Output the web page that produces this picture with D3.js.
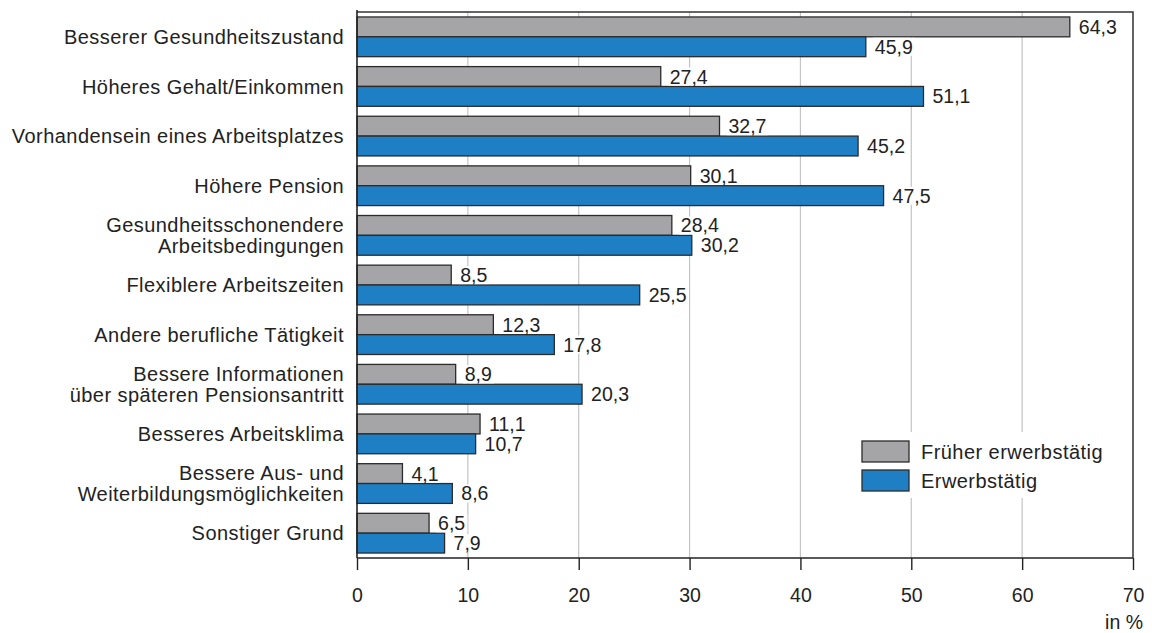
<!DOCTYPE html>
<html>
<head>
<meta charset="utf-8">
<script src="https://cdn.jsdelivr.net/npm/d3@7"></script>
<style>
  body { margin: 0; background: #fff; }
  svg { display: block; font-family: "Liberation Sans", Arial, sans-serif; }
</style>
</head>
<body>
<svg id="chart" width="1152" height="633"></svg>
<script>
// Reasons for staying longer in work, by employment status (in %)
const categories = [
  ["Besserer Gesundheitszustand"],
  ["Höheres Gehalt/Einkommen"],
  ["Vorhandensein eines Arbeitsplatzes"],
  ["Höhere Pension"],
  ["Gesundheitsschonendere", "Arbeitsbedingungen"],
  ["Flexiblere Arbeitszeiten"],
  ["Andere berufliche Tätigkeit"],
  ["Bessere Informationen", "über späteren Pensionsantritt"],
  ["Besseres Arbeitsklima"],
  ["Bessere Aus- und", "Weiterbildungsmöglichkeiten"],
  ["Sonstiger Grund"]
];
const frueher = [64.3, 27.4, 32.7, 30.1, 28.4, 8.5, 12.3, 8.9, 11.1, 4.1, 6.5];
const erwerb  = [45.9, 51.1, 45.2, 47.5, 30.2, 25.5, 17.8, 20.3, 10.7, 8.6, 7.9];
const seriesNames = ["Früher erwerbstätig", "Erwerbstätig"];
const xTicks = [0, 10, 20, 30, 40, 50, 60, 70];

const colors = ["#a5a5a8", "#1f7fc5"];
const fmt = v => d3.format(".1f")(v).replace(".", ",");

const svg = d3.select("#chart");
const plotL = 357, plotR = 1133, plotT = 12, plotB = 558;
const fontSize = 19.5;     // numbers
const textSize = 20;       // category and legend text
const textSpacing = "0.45px";

const x = d3.scaleLinear().domain([0, 70]).range([plotL, plotR]);
const y = d3.scaleBand().domain(d3.range(categories.length)).range([plotT, plotB])
  .paddingInner(0.2).paddingOuter(0.1);
const yInner = d3.scaleBand().domain([0, 1]).range([0, y.bandwidth()]);

// vertical gridlines
svg.append("g").selectAll("line")
  .data(xTicks.filter(t => t > 0 && t < 70))
  .join("line")
  .attr("x1", d => x(d)).attr("x2", d => x(d))
  .attr("y1", plotT).attr("y2", plotB)
  .attr("stroke", "#c4c4c4").attr("stroke-width", 1.2);

// frame: top and right border
svg.append("path")
  .attr("d", `M${plotL},${plotT}H${plotR}V${plotB}`)
  .attr("fill", "none").attr("stroke", "#333").attr("stroke-width", 1.5);

// bars
const rows = categories.map((c, i) => ({ i, vals: [frueher[i], erwerb[i]] }));
const barG = svg.append("g");
rows.forEach(r => {
  r.vals.forEach((v, s) => {
    barG.append("rect")
      .attr("x", x(0))
      .attr("y", y(r.i) + yInner(s))
      .attr("width", x(v) - x(0))
      .attr("height", yInner.bandwidth())
      .attr("fill", colors[s])
      .attr("stroke", "#2b2b2b").attr("stroke-width", 1.3);
  });
});

// value labels with white background
const labG = svg.append("g");
rows.forEach(r => {
  r.vals.forEach((v, s) => {
    const g = labG.append("g");
    const t = g.append("text")
      .attr("x", x(v) + 9)
      .attr("y", y(r.i) + yInner(s) + yInner.bandwidth() / 2)
      .attr("dy", "0.36em")
      .attr("font-size", fontSize)
      .attr("fill", "#222")
      .text(fmt(v));
    const bb = t.node().getBBox();
    g.insert("rect", "text")
      .attr("x", bb.x - 2).attr("y", bb.y + 2)
      .attr("width", bb.width + 4).attr("height", bb.height - 4)
      .attr("fill", "#fff");
  });
});

// category labels
const catG = svg.append("g").attr("font-size", textSize).attr("fill", "#222")
  .attr("letter-spacing", textSpacing)
  .attr("text-anchor", "end");
categories.forEach((lines, i) => {
  const cy = y(i) + y.bandwidth() / 2;
  const lh = 21;
  lines.forEach((ln, k) => {
    catG.append("text")
      .attr("x", 344)
      .attr("y", cy + (k - (lines.length - 1) / 2) * lh)
      .attr("dy", "0.36em")
      .text(ln);
  });
});

// x axis
const xAxis = d3.axisBottom(x).tickValues(xTicks).tickSize(12).tickPadding(18)
  .tickFormat(d3.format("d"));
const ax = svg.append("g").attr("transform", `translate(0,${plotB})`).call(xAxis);
ax.select(".domain").attr("stroke", "#222").attr("stroke-width", 1.6)
  .attr("d", `M${plotL},0H${plotR}`);
ax.selectAll(".tick line").attr("stroke", "#222").attr("stroke-width", 1.4);
ax.selectAll(".tick text").attr("font-size", fontSize).attr("fill", "#222")
  .attr("font-family", "Liberation Sans, Arial, sans-serif");

// y axis line
svg.append("line")
  .attr("x1", plotL).attr("x2", plotL).attr("y1", plotT - 2).attr("y2", plotB)
  .attr("stroke", "#222").attr("stroke-width", 1.6);

// unit label
svg.append("text")
  .attr("x", 1143).attr("y", 629)
  .attr("text-anchor", "end")
  .attr("font-size", fontSize).attr("fill", "#222")
  .text("in %");

// legend
const lg = svg.append("g");
lg.append("rect").attr("x", 853).attr("y", 432).attr("width", 258).attr("height", 66)
  .attr("fill", "#fff");
seriesNames.forEach((name, s) => {
  const yy = 441 + s * 29;
  lg.append("rect").attr("x", 862).attr("y", yy).attr("width", 47).attr("height", 21)
    .attr("fill", colors[s]).attr("stroke", "#2b2b2b").attr("stroke-width", 1.3);
  lg.append("text").attr("x", 921).attr("y", yy + 10.5).attr("dy", "0.36em")
    .attr("font-size", textSize).attr("letter-spacing", textSpacing)
    .attr("fill", "#222").text(name);
});
</script>
</body>
</html>
